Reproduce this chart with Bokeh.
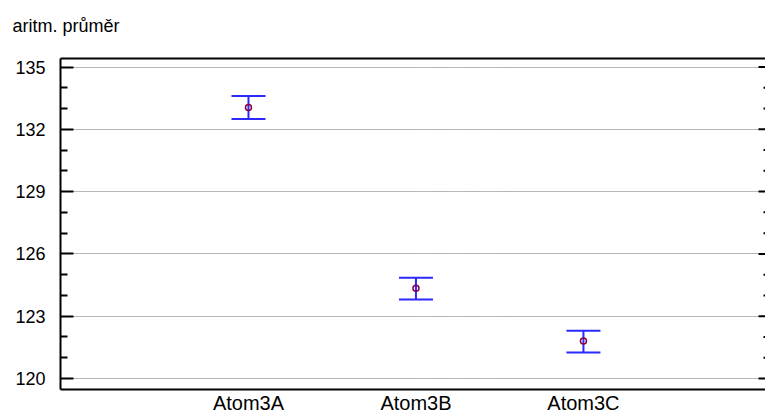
import math
from bokeh.plotting import figure
from bokeh.models import (ColumnDataSource, Whisker, TeeHead, LinearAxis,
                          FixedTicker, Range1d)
from bokeh.embed import file_html
from bokeh.resources import INLINE

# Group means with their interval bounds
groups = ["Atom3A", "Atom3B", "Atom3C"]
means = [133.05, 124.35, 121.80]
lower = [132.50, 123.80, 121.25]
upper = [133.60, 124.85, 122.30]
y_ticks = [120, 123, 126, 129, 132, 135]
y_minor = [121, 122, 124, 125, 127, 128, 130, 131, 133, 134]
title_text = "aritm. průměr"

xs = list(range(1, len(groups) + 1))
src = ColumnDataSource(dict(x=xs, mean=means, lower=lower, upper=upper))

FONT = "Liberation Sans"
X_START, X_END = -0.1224, 4.087

p = figure(width=765, height=416, output_backend="svg", toolbar_location=None,
           x_range=Range1d(X_START, X_END), y_range=Range1d(119.47, 135.41),
           min_border_left=60, min_border_right=0, min_border_top=58,
           min_border_bottom=26, x_axis_location=None, y_axis_location=None)
p.outline_line_color = None
p.background_fill_color = "white"
p.border_fill_color = "white"

# heading above the frame; the trailing line break keeps a blank line
# between the heading and the top edge of the frame
p.title.text = title_text + "\n"
p.title.text_font = FONT
p.title.text_font_size = "18px"
p.title.text_font_style = "normal"
p.title.text_color = "black"
p.title.align = "left"
p.title.offset = -48
p.title.standoff = 6

# left axis
left = LinearAxis(ticker=FixedTicker(ticks=y_ticks, minor_ticks=y_minor))
left.axis_line_color = "black"
left.axis_line_width = 2
left.major_tick_in = 13
left.major_tick_out = 0
left.minor_tick_in = 7
left.minor_tick_out = 0
left.major_tick_line_width = 2
left.minor_tick_line_width = 2
left.major_label_standoff = 15
left.major_label_text_font = FONT
left.major_label_text_font_size = "18px"
left.major_label_text_color = "black"
p.add_layout(left, "left")

# bottom axis with group names
bottom = LinearAxis(ticker=FixedTicker(ticks=xs))
bottom.major_label_overrides = {i: g for i, g in zip(xs, groups)}
bottom.axis_line_color = "black"
bottom.axis_line_width = 2
bottom.major_tick_line_color = None
bottom.minor_tick_line_color = None
bottom.major_tick_in = 0
bottom.major_tick_out = 0
bottom.major_label_standoff = 2
bottom.major_label_text_font = FONT
bottom.major_label_text_font_size = "20px"
bottom.major_label_text_color = "black"
p.add_layout(bottom, "below")

# top frame line
top = LinearAxis(ticker=FixedTicker(ticks=[]))
top.axis_line_color = "black"
top.axis_line_width = 2
top.major_tick_line_color = None
top.minor_tick_line_color = None
p.add_layout(top, "above")

# dotted horizontal grid
p.xgrid.grid_line_color = None
p.ygrid.ticker = FixedTicker(ticks=y_ticks)
p.ygrid.grid_line_color = "#6e6e6e"
p.ygrid.grid_line_dash = "1 1"
p.ygrid.grid_line_width = 1

# inward ticks along the right edge
p.ray(x=[X_END] * len(y_ticks), y=y_ticks, length=7, length_units="screen",
      angle=math.pi, line_color="black", line_width=2)
p.ray(x=[X_END] * len(y_minor), y=y_minor, length=2, length_units="screen",
      angle=math.pi, line_color="black", line_width=2)

# interval bars
w = Whisker(source=src, base="x", lower="lower", upper="upper",
            line_color="#2a2aff", line_width=2,
            upper_head=TeeHead(size=34, line_color="#2a2aff", line_width=2),
            lower_head=TeeHead(size=34, line_color="#2a2aff", line_width=2))
p.add_layout(w)

# means
p.scatter("x", "mean", source=src, size=6, marker="circle",
          fill_color=None, line_color="#8b0040", line_width=1.5)

open("out.html", "w").write(file_html(p, INLINE))
